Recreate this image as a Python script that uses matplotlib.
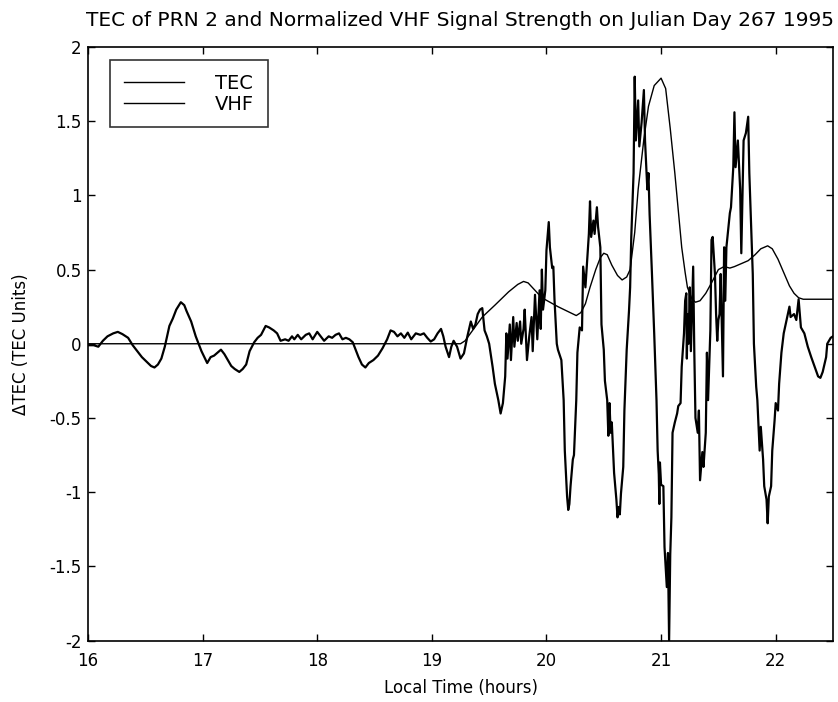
import matplotlib
matplotlib.use("Agg")
import matplotlib.pyplot as plt

# ---------------- data ----------------
tec_t = [16.00, 16.05, 16.09, 16.13, 16.17, 16.22, 16.26, 16.30, 16.35, 16.39, 16.43, 16.47, 16.51, 16.55,
         16.58, 16.61, 16.64, 16.67, 16.71, 16.74, 16.77, 16.81, 16.84, 16.86, 16.90, 16.94, 16.99, 17.04,
         17.07, 17.10, 17.13, 17.16, 17.19, 17.22, 17.25, 17.28, 17.32, 17.35, 17.38, 17.41, 17.45, 17.48,
         17.51, 17.55, 17.58, 17.62, 17.65, 17.68, 17.72, 17.75, 17.78, 17.80, 17.83, 17.86, 17.90, 17.93,
         17.96, 18.00, 18.03, 18.06, 18.10, 18.13, 18.16, 18.19, 18.22, 18.25, 18.28, 18.31, 18.33, 18.36,
         18.39, 18.42, 18.45, 18.49, 18.53, 18.57, 18.61, 18.64, 18.67, 18.70, 18.73, 18.76, 18.79, 18.82,
         18.86, 18.90, 18.93, 18.96, 18.99, 19.02, 19.05, 19.08, 19.10, 19.12, 19.15, 19.17, 19.19, 19.22,
         19.25, 19.28, 19.31, 19.34, 19.36, 19.38, 19.40, 19.42, 19.44, 19.46, 19.48, 19.50, 19.53, 19.55,
         19.58, 19.60, 19.62, 19.64, 19.65, 19.66, 19.68, 19.69, 19.71, 19.72, 19.74, 19.75, 19.77, 19.78,
         19.80, 19.81, 19.83, 19.85, 19.87, 19.88, 19.90, 19.92, 19.94, 19.95, 19.96, 19.97, 19.99, 20.00,
         20.02, 20.03, 20.05, 20.06, 20.07, 20.09, 20.10, 20.13, 20.15, 20.16, 20.18, 20.19, 20.20, 20.21,
         20.23, 20.24, 20.26, 20.27, 20.29, 20.31, 20.32, 20.34, 20.35, 20.37, 20.38, 20.39, 20.41, 20.42,
         20.44, 20.45, 20.47, 20.48, 20.50, 20.51, 20.53, 20.54, 20.55, 20.56, 20.57, 20.59, 20.61, 20.62,
         20.63, 20.64, 20.65, 20.67, 20.68, 20.70, 20.72, 20.73, 20.74, 20.76, 20.77, 20.78, 20.80, 20.81,
         20.83, 20.85, 20.86, 20.88, 20.89, 20.90, 20.92, 20.94, 20.96, 20.97, 20.98, 20.985, 20.99, 21.00,
         21.02, 21.03, 21.05, 21.06, 21.07, 21.08, 21.09, 21.10, 21.12, 21.14, 21.15, 21.17, 21.18, 21.20,
         21.21, 21.22, 21.225, 21.23, 21.24, 21.25, 21.26, 21.28, 21.29, 21.30, 21.32, 21.33, 21.34, 21.36,
         21.37, 21.39, 21.40, 21.41, 21.43, 21.44, 21.45, 21.47, 21.48, 21.49, 21.50, 21.51, 21.52, 21.54,
         21.55, 21.56, 21.57, 21.60, 21.61, 21.63, 21.64, 21.65, 21.67, 21.69, 21.70, 21.72, 21.74, 21.76,
         21.77, 21.78, 21.80, 21.81, 21.83, 21.84, 21.86, 21.87, 21.89, 21.90, 21.92, 21.93, 21.94, 21.96,
         21.97, 21.99, 22.00, 22.02, 22.03, 22.05, 22.07, 22.10, 22.12, 22.13, 22.16, 22.18, 22.20, 22.22,
         22.25, 22.28, 22.31, 22.34, 22.37, 22.39, 22.41, 22.44, 22.45, 22.48, 22.50]
tec_v = [-0.01, -0.01, -0.02, 0.02, 0.05, 0.07, 0.08, 0.065, 0.04, -0.01, -0.05, -0.09, -0.12, -0.15,
         -0.16, -0.14, -0.10, -0.02, 0.12, 0.17, 0.23, 0.28, 0.26, 0.22, 0.15, 0.05, -0.05, -0.13,
         -0.09, -0.08, -0.06, -0.04, -0.07, -0.11, -0.15, -0.17, -0.19, -0.17, -0.14, -0.05, 0.01, 0.04,
         0.06, 0.12, 0.11, 0.09, 0.07, 0.02, 0.03, 0.02, 0.05, 0.03, 0.06, 0.03, 0.06, 0.07,
         0.03, 0.08, 0.05, 0.02, 0.05, 0.04, 0.06, 0.07, 0.03, 0.04, 0.03, 0.01, -0.03, -0.09,
         -0.14, -0.16, -0.13, -0.11, -0.08, -0.03, 0.03, 0.09, 0.08, 0.05, 0.07, 0.04, 0.075, 0.03,
         0.07, 0.06, 0.07, 0.04, 0.015, 0.03, 0.07, 0.10, 0.05, -0.02, -0.09, -0.02, 0.02, -0.02,
         -0.10, -0.065, 0.05, 0.15, 0.10, 0.13, 0.20, 0.23, 0.24, 0.09, 0.05, 0.00, -0.155, -0.27,
         -0.38, -0.47, -0.40, -0.22, 0.07, -0.10, 0.13, -0.11, 0.18, -0.02, 0.14, 0.02, 0.15, 0.00,
         0.10, 0.23, -0.11, 0.05, 0.18, -0.05, 0.33, 0.03, 0.36, 0.10, 0.50, 0.23, 0.36, 0.63,
         0.82, 0.65, 0.51, 0.52, 0.30, 0.00, -0.04, -0.11, -0.38, -0.72, -1.03, -1.12, -1.08, -0.96,
         -0.78, -0.75, -0.38, -0.06, 0.11, 0.09, 0.52, 0.38, 0.50, 0.74, 0.96, 0.72, 0.83, 0.74,
         0.92, 0.79, 0.65, 0.13, -0.04, -0.25, -0.38, -0.62, -0.40, -0.60, -0.53, -0.87, -1.05, -1.17,
         -1.10, -1.15, -1.01, -0.83, -0.45, -0.04, 0.22, 0.38, 0.72, 1.15, 1.80, 1.37, 1.64, 1.33,
         1.49, 1.71, 1.37, 1.04, 1.15, 0.87, 0.48, 0.07, -0.38, -0.72, -0.88, -1.08, -0.80, -0.95,
         -0.96, -1.37, -1.64, -1.41, -2.00, -1.42, -1.17, -0.60, -0.53, -0.47, -0.42, -0.40, -0.155, 0.07,
         0.29, 0.34, -0.10, 0.20, 0.00, 0.38, -0.05, 0.52, -0.06, -0.50, -0.60, -0.45, -0.92, -0.73,
         -0.83, -0.60, -0.06, -0.38, 0.09, 0.70, 0.72, 0.47, 0.20, 0.02, 0.16, 0.20, 0.47, -0.22,
         0.65, 0.29, 0.65, 0.88, 0.92, 1.19, 1.56, 1.19, 1.37, 1.04, 0.61, 1.37, 1.42, 1.53,
         1.15, 0.92, 0.47, 0.00, -0.29, -0.38, -0.72, -0.56, -0.78, -0.96, -1.05, -1.21, -1.03, -0.96,
         -0.72, -0.52, -0.40, -0.45, -0.27, -0.06, 0.07, 0.18, 0.25, 0.18, 0.20, 0.16, 0.30, 0.11,
         0.07, -0.02, -0.09, -0.155, -0.22, -0.23, -0.19, -0.09, 0.00, 0.04, 0.05]

vhf_t = [16.00, 19.25, 19.29, 19.44, 19.55, 19.67, 19.75, 19.80, 19.84, 19.90, 19.96, 20.03, 20.10,
         20.18, 20.26, 20.30, 20.34, 20.38, 20.43, 20.47, 20.50, 20.53, 20.57, 20.62, 20.66, 20.70,
         20.73, 20.77, 20.80, 20.85, 20.89, 20.94, 21.00, 21.04, 21.08, 21.12, 21.15, 21.18, 21.21,
         21.23, 21.27, 21.30, 21.34, 21.39, 21.44, 21.50, 21.55, 21.60, 21.64, 21.70, 21.76, 21.82,
         21.87, 21.93, 21.97, 22.02, 22.07, 22.12, 22.16, 22.20, 22.24, 22.50]
vhf_v = [0.00, 0.00, 0.02, 0.18, 0.26, 0.35, 0.40, 0.42, 0.41, 0.36, 0.31, 0.28, 0.25,
         0.22, 0.19, 0.21, 0.27, 0.38, 0.50, 0.58, 0.61, 0.60, 0.53, 0.46, 0.43, 0.45,
         0.50, 0.75, 1.04, 1.38, 1.60, 1.74, 1.79, 1.72, 1.45, 1.15, 0.90, 0.65, 0.48,
         0.38, 0.30, 0.28, 0.29, 0.34, 0.41, 0.50, 0.52, 0.51, 0.52, 0.54, 0.56, 0.60,
         0.64, 0.66, 0.64, 0.57, 0.48, 0.39, 0.34, 0.31, 0.30, 0.30]

series_labels = ["TEC", "VHF"]
x_ticks = [16, 17, 18, 19, 20, 21, 22]
y_ticks = [-2, -1.5, -1, -0.5, 0, 0.5, 1, 1.5, 2]
y_tick_labels = ["-2", "-1.5", "-1", "-0.5", "0", "0.5", "1", "1.5", "2"]

# ---------------- plot ----------------
plt.rcParams['font.family'] = ['DejaVu Sans']

fig = plt.figure(figsize=(8.38, 7.02), dpi=100)
ax = fig.add_axes([88 / 838, 1 - 640.5 / 702, (833 - 88) / 838, (640.5 - 47) / 702])

ax.plot(tec_t, tec_v, color='black', lw=1.6, label=series_labels[0])
ax.plot(vhf_t, vhf_v, color='black', lw=1.0, label=series_labels[1])

ax.set_xlim(16, 22.5)
ax.set_ylim(-2, 2)
ax.set_xticks(x_ticks)
ax.set_xticklabels([str(v) for v in x_ticks])
ax.set_yticks(y_ticks)
ax.set_yticklabels(y_tick_labels)
ax.tick_params(direction='in', top=True, right=True, length=5, width=1.0, labelsize=12)
ax.tick_params(axis='x', pad=8)
ax.tick_params(axis='y', pad=4.5)
for s in ax.spines.values():
    s.set_linewidth(1.2)

ax.set_xlabel("Local Time (hours)", fontsize=12, labelpad=7)
ax.set_ylabel("\u0394TEC (TEC Units)", fontsize=12, labelpad=14)

fig.text(460 / 838, 1 - 26 / 702,
         "TEC of PRN 2 and Normalized VHF Signal Strength on Julian Day 267 1995",
         ha='center', va='baseline', fontsize=14.5)

leg = ax.legend(loc='upper left', bbox_to_anchor=((110 - 88) / 745, (640.5 - 60) / 593.5),
                frameon=True, fancybox=False, edgecolor='black', fontsize=14,
                handlelength=3.1, handletextpad=1.6, borderpad=0.7, labelspacing=0.1,
                borderaxespad=0.0)
leg.get_frame().set_linewidth(1.2)
for line in leg.get_lines():
    line.set_linewidth(1.0)

fig.savefig("out.png", dpi=100, facecolor='white')
